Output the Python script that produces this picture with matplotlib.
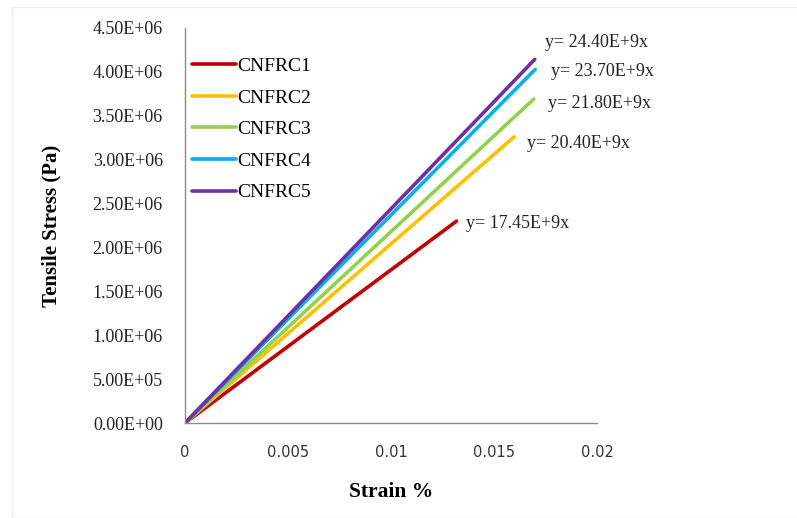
import matplotlib
matplotlib.use("Agg")
import matplotlib.pyplot as plt
from matplotlib.patches import Rectangle

# Specimens, elastic moduli (Pa per % strain, as in the fitted equations) and final strain (%)
specimens = ["CNFRC1", "CNFRC2", "CNFRC3", "CNFRC4", "CNFRC5"]
moduli = [17.45e9, 20.40e9, 21.80e9, 23.70e9, 24.40e9]
end_strain = [0.01318, 0.01598, 0.01693, 0.01700, 0.01698]
colors = ["#c00000", "#ffc000", "#92d050", "#00b0f0", "#7030a0"]
equations = ["y= 17.45E+9x", "y= 20.40E+9x", "y= 21.80E+9x", "y= 23.70E+9x", "y= 24.40E+9x"]

# Label offsets (points) from each line's end
label_offsets = [(6.5, -1.5), (9.5, -5), (10, -3), (11.5, -1.5), (7, 12)]

x_ticks = [0, 0.005, 0.01, 0.015, 0.02]
x_tick_labels = ["0", "0.005", "0.01", "0.015", "0.02"]
y_ticks = [i * 5e5 for i in range(10)]
y_tick_labels = ["0.00E+00", "5.00E+05", "1.00E+06", "1.50E+06", "2.00E+06",
                 "2.50E+06", "3.00E+06", "3.50E+06", "4.00E+06", "4.50E+06"]

serif = "Liberation Serif"

fig = plt.figure(figsize=(7.97, 5.18), dpi=100)
fig.patches.append(Rectangle((12 / 797, 0), 1, 1 - 7 / 518, transform=fig.transFigure,
                             fill=False, edgecolor="#eeeeee", linewidth=1.0))
ax = fig.add_axes([185 / 797, 95 / 518, 412 / 797, 395 / 518])

for name, E, eps, c in zip(specimens, moduli, end_strain, colors):
    xs = [0.0, eps]
    ys = [0.0, E * eps / 100.0]
    ax.plot(xs, ys, color=c, linewidth=2.6, solid_capstyle="round", label=name)

for E, eps, txt, off in zip(moduli, end_strain, equations, label_offsets):
    ax.annotate(txt, xy=(eps, E * eps / 100.0), xytext=off, textcoords="offset points",
                ha="left", va="center", fontsize=13, family=serif, color="#222222")

ax.set_xlim(0, 0.02)
ax.set_ylim(0, 4.5e6)
ax.set_xticks(x_ticks)
ax.set_xticklabels(x_tick_labels, fontsize=10.5, family="DejaVu Sans", color="#333333")
ax.set_yticks(y_ticks)
ax.set_yticklabels(y_tick_labels, fontsize=13, family=serif, color="#222222")
ax.tick_params(axis="both", length=0)
ax.tick_params(axis="x", pad=16)
ax.tick_params(axis="y", pad=16)

for side in ("top", "right"):
    ax.spines[side].set_visible(False)
for side in ("left", "bottom"):
    ax.spines[side].set_color("#8c8c8c")
    ax.spines[side].set_linewidth(1.0)

ax.set_xlabel("Strain %", fontsize=15.5, fontweight="bold", family=serif, labelpad=16)
ax.set_ylabel("Tensile Stress (Pa)", fontsize=15, fontweight="bold", family=serif, labelpad=22)

leg = ax.legend(loc="upper left", bbox_to_anchor=(-0.017, 0.96), frameon=False,
                prop={"family": serif, "size": 14}, handlelength=2.3, handletextpad=0.05,
                labelspacing=0.72, borderaxespad=0.3)

fig.savefig("out.png", dpi=100, facecolor="white")
